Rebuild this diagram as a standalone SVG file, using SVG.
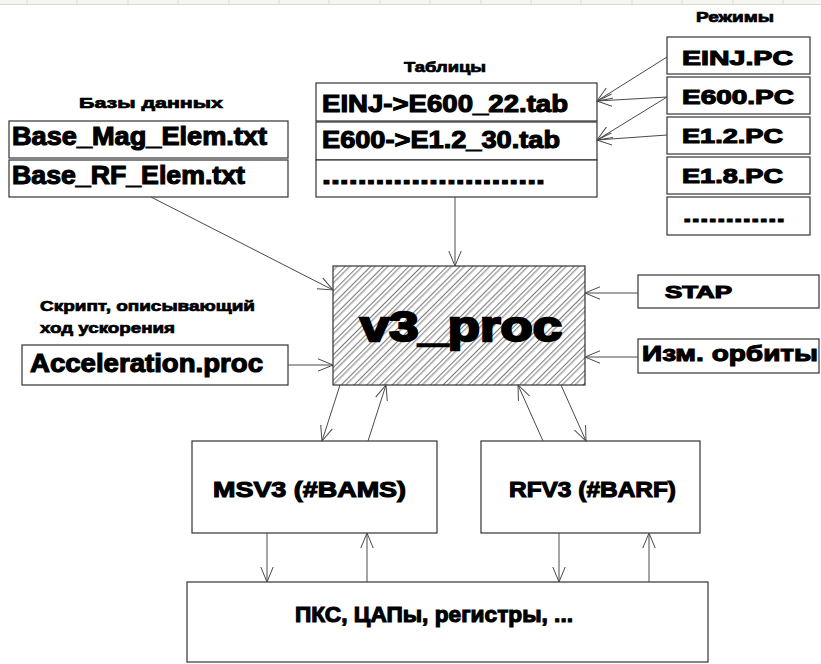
<svg xmlns="http://www.w3.org/2000/svg" width="821" height="664" viewBox="0 0 821 664">
<style>
.box{fill:#fff;stroke:#333;stroke-width:1.2}
.t{font-family:"Liberation Sans",Arial,sans-serif;font-weight:bold;fill:#000;stroke:#000;stroke-width:1.1}
.lbl{font-family:"Liberation Sans",Arial,sans-serif;font-weight:bold;fill:#000;stroke:#000;stroke-width:0.7}
.c{stroke:#4a4a4a;stroke-width:1;fill:none;marker-end:url(#arr)}
.g{stroke:#dcdcd4;stroke-width:1}
</style>
<defs>
<marker id="arr" markerWidth="16" markerHeight="14" refX="15" refY="7" orient="auto" markerUnits="userSpaceOnUse">
<path d="M0,0.8 L15,7 L0,13.2" fill="none" stroke="#4a4a4a" stroke-width="1"/>
</marker>
<pattern id="hatch" patternUnits="userSpaceOnUse" width="9" height="9" patternTransform="rotate(45)">
<line x1="0.5" y1="0" x2="0.5" y2="9" stroke="#555" stroke-width="0.8"/>
<line x1="3.8" y1="0" x2="3.8" y2="9" stroke="#555" stroke-width="0.8"/>
</pattern>
</defs>
<rect width="821" height="664" fill="#fff"/>
<g id="grid-strip">
<rect x="0" y="0" width="821" height="4" fill="#f6f6f0"/>
<line class="g" x1="0" y1="4.5" x2="821" y2="4.5"/>
<line class="g" x1="27" y1="0" x2="27" y2="4"/><line class="g" x1="77" y1="0" x2="77" y2="4"/><line class="g" x1="128" y1="0" x2="128" y2="4"/><line class="g" x1="178" y1="0" x2="178" y2="4"/><line class="g" x1="229" y1="0" x2="229" y2="4"/><line class="g" x1="279" y1="0" x2="279" y2="4"/><line class="g" x1="329" y1="0" x2="329" y2="4"/><line class="g" x1="380" y1="0" x2="380" y2="4"/><line class="g" x1="430" y1="0" x2="430" y2="4"/><line class="g" x1="481" y1="0" x2="481" y2="4"/><line class="g" x1="531" y1="0" x2="531" y2="4"/><line class="g" x1="581" y1="0" x2="581" y2="4"/><line class="g" x1="632" y1="0" x2="632" y2="4"/><line class="g" x1="682" y1="0" x2="682" y2="4"/><line class="g" x1="733" y1="0" x2="733" y2="4"/><line class="g" x1="783" y1="0" x2="783" y2="4"/>
</g>

<g id="labels">
<text class="lbl" x="696" y="22" font-size="14" textLength="78" lengthAdjust="spacingAndGlyphs">Режимы</text>
<text class="lbl" x="404" y="72" font-size="14" textLength="82" lengthAdjust="spacingAndGlyphs">Таблицы</text>
<text class="lbl" x="79" y="108" font-size="14" textLength="144" lengthAdjust="spacingAndGlyphs">Базы данных</text>
<text class="lbl" x="40" y="311" font-size="14" textLength="215" lengthAdjust="spacingAndGlyphs">Скрипт, описывающий</text>
<text class="lbl" x="40" y="333" font-size="14" textLength="135" lengthAdjust="spacingAndGlyphs">ход ускорения</text>
</g>

<g id="base-mag">
<rect class="box" x="9" y="121" width="279" height="37"/>
<text class="t" x="12" y="145" font-size="25" textLength="255" lengthAdjust="spacingAndGlyphs">Base_Mag_Elem.txt</text>
</g>
<g id="base-rf">
<rect class="box" x="9" y="160" width="279" height="37"/>
<text class="t" x="12" y="184" font-size="25" textLength="233" lengthAdjust="spacingAndGlyphs">Base_RF_Elem.txt</text>
</g>

<g id="tab-1">
<rect class="box" x="316" y="83" width="281" height="38"/>
<text class="t" x="322" y="112" font-size="24" textLength="246" lengthAdjust="spacingAndGlyphs">EINJ-&gt;E600_22.tab</text>
</g>
<g id="tab-2">
<rect class="box" x="316" y="122" width="281" height="38"/>
<text class="t" x="322" y="148" font-size="24" textLength="238" lengthAdjust="spacingAndGlyphs">E600-&gt;E1.2_30.tab</text>
</g>
<g id="tab-3">
<rect class="box" x="316" y="160" width="281" height="37"/>
<text class="t" x="322" y="184" font-size="24" textLength="223" lengthAdjust="spacingAndGlyphs">.........................</text>
</g>

<g id="mode-einj">
<rect class="box" x="667" y="37" width="143" height="37"/>
<text class="t" x="682" y="65" font-size="21" textLength="111" lengthAdjust="spacingAndGlyphs">EINJ.PC</text>
</g>
<g id="mode-e600">
<rect class="box" x="667" y="77" width="143" height="37"/>
<text class="t" x="682" y="104" font-size="21" textLength="112" lengthAdjust="spacingAndGlyphs">E600.PC</text>
</g>
<g id="mode-e12">
<rect class="box" x="667" y="117" width="143" height="37"/>
<text class="t" x="682" y="143" font-size="21" textLength="101" lengthAdjust="spacingAndGlyphs">E1.2.PC</text>
</g>
<g id="mode-e18">
<rect class="box" x="667" y="157" width="143" height="37"/>
<text class="t" x="682" y="183" font-size="21" textLength="101" lengthAdjust="spacingAndGlyphs">E1.8.PC</text>
</g>
<g id="mode-more">
<rect class="box" x="667" y="197" width="143" height="38"/>
<text class="t" x="683" y="222" font-size="21" textLength="102" lengthAdjust="spacingAndGlyphs">............</text>
</g>

<g id="v3-proc">
<rect x="333" y="266" width="252" height="119" fill="#fff"/>
<rect x="333" y="266" width="252" height="119" fill="url(#hatch)" stroke="#333" stroke-width="1.2"/>
<text x="360" y="341" font-family="'Liberation Sans',Arial,sans-serif" font-weight="bold" font-size="43" fill="#000" stroke="#000" stroke-width="2.4" textLength="202" lengthAdjust="spacingAndGlyphs">v3_proc</text>
</g>

<g id="acceleration">
<rect class="box" x="22" y="345" width="266" height="40"/>
<text class="t" x="30" y="372" font-size="25" textLength="233" lengthAdjust="spacingAndGlyphs">Acceleration.proc</text>
</g>

<g id="stap">
<rect class="box" x="638" y="275" width="181" height="33"/>
<text class="t" x="665" y="298" font-size="17" textLength="67" lengthAdjust="spacingAndGlyphs">STAP</text>
</g>
<g id="orbit">
<rect class="box" x="638" y="339" width="181" height="34"/>
<text class="t" x="642" y="361" font-size="22" textLength="176" lengthAdjust="spacingAndGlyphs">Изм. орбиты</text>
</g>

<g id="msv3">
<rect class="box" x="192" y="441" width="245" height="92"/>
<text class="t" x="213" y="497" font-size="22" textLength="193" lengthAdjust="spacingAndGlyphs">MSV3 (#BAMS)</text>
</g>
<g id="rfv3">
<rect class="box" x="481" y="441" width="219" height="92"/>
<text class="t" x="509" y="497" font-size="22" textLength="167" lengthAdjust="spacingAndGlyphs">RFV3 (#BARF)</text>
</g>

<g id="hardware">
<rect class="box" x="187" y="582" width="521" height="80"/>
<text class="t" x="295" y="622" font-size="22" textLength="278" lengthAdjust="spacingAndGlyphs">ПКС, ЦАПы, регистры, ...</text>
</g>

<g id="connectors">
<line class="c" x1="667" y1="57" x2="597" y2="101"/>
<line class="c" x1="667" y1="97" x2="597" y2="101"/>
<line class="c" x1="667" y1="97" x2="597" y2="140"/>
<line class="c" x1="667" y1="135" x2="597" y2="140"/>
<line class="c" x1="455" y1="197" x2="455" y2="266"/>
<line class="c" x1="151" y1="197" x2="333" y2="290"/>
<line class="c" x1="288" y1="365" x2="333" y2="365"/>
<line class="c" x1="638" y1="293" x2="585" y2="293"/>
<line class="c" x1="638" y1="357" x2="585" y2="357"/>
<line class="c" x1="340" y1="385" x2="322" y2="441"/>
<line class="c" x1="368" y1="441" x2="386" y2="385"/>
<line class="c" x1="543" y1="441" x2="518" y2="385"/>
<line class="c" x1="561" y1="385" x2="586" y2="441"/>
<line class="c" x1="267" y1="533" x2="267" y2="582"/>
<line class="c" x1="367" y1="582" x2="367" y2="533"/>
<line class="c" x1="559" y1="533" x2="559" y2="582"/>
<line class="c" x1="649" y1="582" x2="649" y2="533"/>
</g>
</svg>
